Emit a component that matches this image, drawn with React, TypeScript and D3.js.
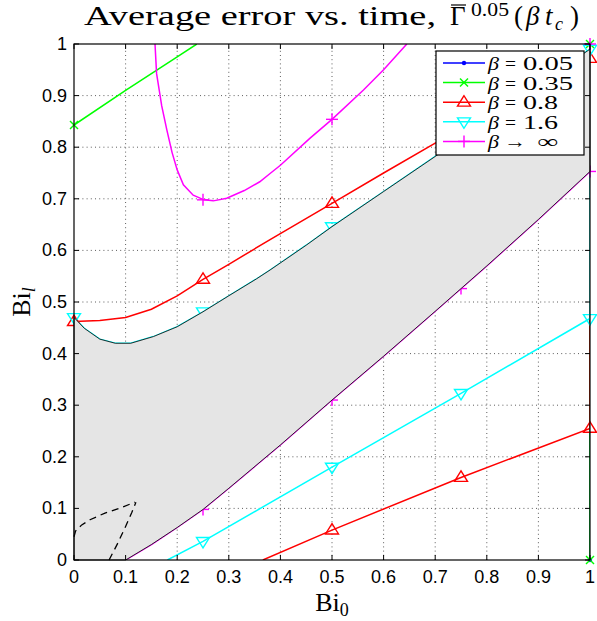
import React from 'react';
import * as d3 from 'd3';

type P = [number, number];

const xTicks = [0, 0.1, 0.2, 0.3, 0.4, 0.5, 0.6, 0.7, 0.8, 0.9, 1];
const xTickLabels = ['0', '0.1', '0.2', '0.3', '0.4', '0.5', '0.6', '0.7', '0.8', '0.9', '1'];
const yTicks = [0, 0.1, 0.2, 0.3, 0.4, 0.5, 0.6, 0.7, 0.8, 0.9, 1];
const yTickLabels = ['0', '0.1', '0.2', '0.3', '0.4', '0.5', '0.6', '0.7', '0.8', '0.9', '1'];

// beta = 0.05 (hidden under other curves)
const blueVert: P[] = [[1, 0], [1, 1]];
const blueMarkers: P[] = [[1, 0], [1, 1]];

// beta = 0.35
const greenUpper: P[] = [[0, 0.843], [0.1, 0.91], [0.2, 0.975], [0.238, 1]];
const greenVert: P[] = [[1, 0], [1, 1]];
const greenMarkers: P[] = [[0, 0.843], [1, 0], [1, 1]];

// beta = 0.8
const redUpper: P[] = [
  [0, 0.462], [0.05, 0.464], [0.1, 0.47], [0.15, 0.486], [0.2, 0.512], [0.25, 0.544],
  [0.3, 0.573], [0.38, 0.621], [0.5, 0.691], [0.6, 0.75], [0.7, 0.808], [0.8, 0.863],
  [0.9, 0.918], [1, 0.972],
];
const redLower: P[] = [[0.366, 0], [0.5, 0.058], [0.75, 0.16], [1, 0.255]];
const redVert: P[] = [[1, 0.255], [1, 0.972]];
const redMarkers: P[] = [
  [0, 0.462], [0.25, 0.544], [0.5, 0.691], [0.75, 0.836], [1, 0.972],
  [0.5, 0.058], [0.75, 0.16], [1, 0.255],
];

// beta = 1.6
const cyanUpper: P[] = [
  [0, 0.47], [0.02, 0.449], [0.05, 0.428], [0.08, 0.42], [0.11, 0.42], [0.154, 0.433],
  [0.2, 0.452], [0.25, 0.481], [0.3, 0.512], [0.354, 0.545], [0.38, 0.562], [0.45, 0.61],
  [0.5, 0.646], [0.6, 0.714], [0.7, 0.782], [0.8, 0.852], [0.9, 0.921], [1, 0.99],
];
const cyanLower: P[] = [[0.181, 0], [0.25, 0.036], [0.5, 0.18], [0.75, 0.323], [1, 0.468]];
const cyanVert: P[] = [[1, 0.468], [1, 0.99]];
const cyanMarkers: P[] = [
  [0, 0.47], [0.25, 0.481], [0.5, 0.646], [0.75, 0.817], [1, 0.99],
  [0.25, 0.036], [0.5, 0.18], [0.75, 0.323], [1, 0.468],
];

// beta -> infinity
const magentaUpper: P[] = [
  [0.157, 1], [0.16, 0.943], [0.17, 0.88], [0.18, 0.833], [0.19, 0.79], [0.2, 0.756],
  [0.212, 0.727], [0.231, 0.707], [0.252, 0.698], [0.27, 0.696], [0.296, 0.701],
  [0.33, 0.716], [0.36, 0.733], [0.38, 0.749], [0.4, 0.765], [0.457, 0.817], [0.5, 0.854],
  [0.561, 0.911], [0.6, 0.95], [0.645, 1],
];
const magentaLower: P[] = [
  [0.1, 0], [0.15, 0.03], [0.2, 0.063], [0.25, 0.098], [0.3, 0.139], [0.4, 0.223],
  [0.5, 0.31], [0.6, 0.395], [0.7, 0.482], [0.8, 0.57], [0.9, 0.66], [1, 0.753],
];
const magentaVert: P[] = [[1, 0.753], [1, 1]];
const magentaMarkers: P[] = [
  [0.25, 0.698], [0.5, 0.854], [1, 1],
  [0.25, 0.098], [0.5, 0.31], [0.75, 0.526], [1, 0.753],
];

// dashed curves
const dashedA: P[] = [[0, 0.045], [0.003, 0.056], [0.015, 0.068], [0.031, 0.078], [0.06, 0.091], [0.09, 0.101], [0.118, 0.112]];
const dashedB: P[] = [[0.068, 0], [0.085, 0.033], [0.1, 0.065], [0.112, 0.092], [0.12, 0.112]];

const legendOps = ['=', '=', '=', '=', '\u2192'];
const legendValues = ['0.05', '0.35', '0.8', '1.6', '\u221E'];
const seriesColors = ['#0000ff', '#00ff00', '#ff0000', '#00ffff', '#ff00ff'];
const seriesMarkers = ['dot', 'x', 'tri-up', 'tri-down', 'plus'];

const W = 597;
const H = 621;
const X0 = 74;
const X1 = 590;
const Y0 = 560;
const Y1 = 44;

function Marker({ type, cx, cy, color }: { type: string; cx: number; cy: number; color: string }) {
  const s = 1.4;
  if (type === 'dot') return <circle cx={cx} cy={cy} r={2.2} fill={color} />;
  if (type === 'x') {
    const r = 4;
    return (
      <g stroke={color} strokeWidth={s}>
        <line x1={cx - r} y1={cy - r} x2={cx + r} y2={cy + r} />
        <line x1={cx - r} y1={cy + r} x2={cx + r} y2={cy - r} />
      </g>
    );
  }
  if (type === 'plus') {
    const r = 6;
    return (
      <g stroke={color} strokeWidth={s}>
        <line x1={cx - r} y1={cy} x2={cx + r} y2={cy} />
        <line x1={cx} y1={cy - r} x2={cx} y2={cy + r} />
      </g>
    );
  }
  const r = 6.5;
  if (type === 'tri-up') {
    const pts = `${cx},${cy - r} ${cx - r},${cy + r * 0.6} ${cx + r},${cy + r * 0.6}`;
    return <polygon points={pts} fill="none" stroke={color} strokeWidth={s} />;
  }
  const pts = `${cx},${cy + r} ${cx - r},${cy - r * 0.6} ${cx + r},${cy - r * 0.6}`;
  return <polygon points={pts} fill="none" stroke={color} strokeWidth={s} />;
}

export default function App() {
  const x = d3.scaleLinear().domain([0, 1]).range([X0, X1]);
  const y = d3.scaleLinear().domain([0, 1]).range([Y0, Y1]);
  const line = d3.line<P>().x((d) => x(d[0])).y((d) => y(d[1]));

  const regionPts: P[] = [
    [0, 0],
    ...cyanUpper,
    ...magentaLower.slice().reverse(),
  ];
  const regionPath = line(regionPts) + 'Z';

  const series = [
    { color: seriesColors[0], marker: seriesMarkers[0], lines: [blueVert], marks: blueMarkers },
    { color: seriesColors[1], marker: seriesMarkers[1], lines: [greenUpper, greenVert], marks: greenMarkers },
    { color: seriesColors[2], marker: seriesMarkers[2], lines: [redUpper, redLower, redVert], marks: redMarkers },
    { color: seriesColors[3], marker: seriesMarkers[3], lines: [cyanUpper, cyanLower, cyanVert], marks: cyanMarkers },
    { color: seriesColors[4], marker: seriesMarkers[4], lines: [magentaUpper, magentaLower, magentaVert], marks: magentaMarkers },
  ];

  const tickFont = "'Liberation Sans', Arial, sans-serif";
  const lserif = "'Liberation Serif', 'DejaVu Serif', serif";

  const legX = 436;
  const legY = 51;
  const legW = 148;
  const legH = 104;
  const rowH = 19.6;

  return (
    <svg width={W} height={H} style={{ position: 'absolute', left: 0, top: 0, background: '#fff' }}>
      <rect x={0} y={0} width={W} height={H} fill="#fff" />
      <defs>
        <clipPath id="plotClip">
          <rect x={X0} y={Y1} width={X1 - X0} height={Y0 - Y1} />
        </clipPath>
      </defs>
      {/* grid */}
      <g stroke="#333" strokeWidth={0.8} strokeDasharray="1 3.2">
        {xTicks.slice(1, -1).map((t) => (
          <line key={'gx' + t} x1={x(t)} x2={x(t)} y1={Y0} y2={Y1} />
        ))}
        {yTicks.slice(1, -1).map((t) => (
          <line key={'gy' + t} y1={y(t)} y2={y(t)} x1={X0} x2={X1} />
        ))}
      </g>
      {/* series lines */}
      <g clipPath="url(#plotClip)" fill="none" strokeWidth={1.5}>
        {series.map((s, i) =>
          s.lines.map((l, j) => <path key={i + '-' + j} d={line(l) || ''} stroke={s.color} />)
        )}
      </g>
      {/* markers */}
      {series.map((s, i) => (
        <g key={'m' + i}>
          {s.marks.map((m, j) => (
            <Marker key={j} type={s.marker} cx={x(m[0])} cy={y(m[1])} color={s.color} />
          ))}
        </g>
      ))}
      {/* shaded region */}
      <path d={regionPath} fill="#e5e5e5" stroke="#000" strokeWidth={0.8} />
      {/* dashed curves */}
      <g fill="none" stroke="#000" strokeWidth={1.3} strokeDasharray="7 5">
        <path d={line(dashedA) || ''} />
        <path d={line(dashedB) || ''} />
      </g>
      {/* axes box and ticks */}
      <rect x={X0} y={Y1} width={X1 - X0} height={Y0 - Y1} fill="none" stroke="#000" strokeWidth={1.2} />
      <g stroke="#000" strokeWidth={1}>
        {xTicks.map((t) => (
          <g key={'tx' + t}>
            <line x1={x(t)} x2={x(t)} y1={Y0} y2={Y0 - 5} />
            <line x1={x(t)} x2={x(t)} y1={Y1} y2={Y1 + 5} />
          </g>
        ))}
        {yTicks.map((t) => (
          <g key={'ty' + t}>
            <line y1={y(t)} y2={y(t)} x1={X0} x2={X0 + 5} />
            <line y1={y(t)} y2={y(t)} x1={X1} x2={X1 - 5} />
          </g>
        ))}
      </g>
      {/* tick labels */}
      <g fontFamily={tickFont} fontSize={18} fill="#000">
        {xTicks.map((t, i) => (
          <text key={'lx' + t} x={x(t)} y={Y0 + 23} textAnchor="middle">
            {xTickLabels[i]}
          </text>
        ))}
        {yTicks.map((t, i) => (
          <text key={'ly' + t} x={X0 - 7} y={y(t) + 6} textAnchor="end">
            {yTickLabels[i]}
          </text>
        ))}
      </g>
      {/* legend */}
      <rect x={legX} y={legY} width={legW} height={legH} fill="#fff" stroke="#000" strokeWidth={1.2} />
      {series.map((s, i) => {
        const cy = legY + 12 + i * rowH;
        const isInf = i === 4;
        return (
          <g key={'leg' + i}>
            <line x1={legX + 7} x2={legX + 49} y1={cy} y2={cy} stroke={s.color} strokeWidth={1.5} />
            <Marker type={s.marker} cx={legX + 28} cy={cy} color={s.color} />
            <text x={488} y={cy + 7} fontFamily={lserif} fontStyle="italic" fontSize={19} fill="#000"
              textLength={11} lengthAdjust="spacingAndGlyphs">
              {'\u03B2'}
            </text>
            <text x={isInf ? 504 : 505} y={cy + 7} fontFamily={lserif} fontSize={19} fill="#000"
              textLength={isInf ? 22 : 11} lengthAdjust="spacingAndGlyphs">
              {legendOps[i]}
            </text>
            <text x={isInf ? 537 : 523} y={cy + 7} fontFamily={lserif} fontSize={19} fill="#000"
              textLength={isInf ? 21 : legendValues[i].length === 4 ? 50 : 35} lengthAdjust="spacingAndGlyphs">
              {legendValues[i]}
            </text>
          </g>
        );
      })}
      {/* title */}
      <g fontFamily={lserif} fill="#000">
        <text x={84} y={25} fontSize={27} textLength={352} lengthAdjust="spacingAndGlyphs">
          Average error vs.  time,
        </text>
        <text x={450} y={25} fontSize={27}>{'\u0393'}</text>
        <line x1={451} x2={466} y1={5} y2={5} stroke="#000" strokeWidth={1.2} />
        <text x={471} y={16} fontSize={18} textLength={38} lengthAdjust="spacingAndGlyphs">0.05</text>
        <text x={514} y={25} fontSize={27}>(</text>
        <text x={526} y={25} fontSize={27} fontStyle="italic">{'\u03B2'}</text>
        <text x={545} y={25} fontSize={27} fontStyle="italic">t</text>
        <text x={555} y={30} fontSize={18} fontStyle="italic">c</text>
        <text x={570} y={25} fontSize={27}>)</text>
      </g>
      {/* x label */}
      <text x={x(0.5)} y={611} textAnchor="middle" fontFamily={lserif} fontSize={26} fill="#000">
        <tspan>Bi</tspan>
        <tspan fontSize={18} dy={5}>0</tspan>
      </text>
      {/* y label */}
      <text transform={`translate(30, ${y(0.5)}) rotate(-90)`} textAnchor="middle" fontFamily={lserif} fontSize={26} fill="#000">
        <tspan>Bi</tspan>
        <tspan fontSize={18} dy={5} fontStyle="italic">l</tspan>
      </text>
    </svg>
  );
}
